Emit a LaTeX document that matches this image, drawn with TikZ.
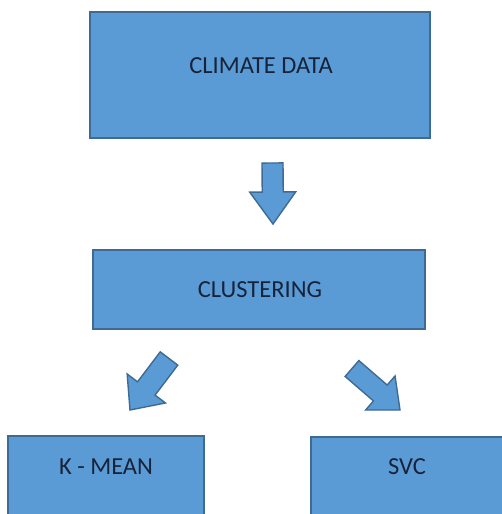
\documentclass[tikz,border=0pt]{standalone}
\usepackage{fontspec}
\setmainfont{Carlito}
\usetikzlibrary{calc}
\definecolor{boxfill}{HTML}{5B9BD5}
\definecolor{boxedge}{HTML}{3E6A93}
\definecolor{txt}{HTML}{17233A}
\tikzset{
  boxshape/.style={draw=boxedge, fill=boxfill, line width=1.5pt},
  lbl/.style={text=txt, font=\fontsize{24.5}{28}\selectfont, inner sep=0pt},
  blockarrow/.style={draw=boxedge, fill=boxfill, line width=1.4pt, line join=miter}
}
\newcommand{\blockarr}[6]{% tail, tip, shaft half, head half, head length, name
  \coordinate (#6H) at ($(#2)!#5!(#1)$);
  \draw[blockarrow]
    ($(#1)!#3!90:(#2)$) -- ($(#6H)!#3!90:(#2)$) -- ($(#6H)!#4!90:(#2)$) --
    (#2) -- ($(#6H)!#4!-90:(#2)$) -- ($(#6H)!#3!-90:(#2)$) --
    ($(#1)!#3!-90:(#2)$) -- cycle;
}
\begin{document}
\begin{tikzpicture}[x=1pt,y=-1pt]
\useasboundingbox (0,0) rectangle (502,514);
\clip (0,0) rectangle (502,514);
\fill[white] (0,0) rectangle (502,514);
% boxes
\draw[boxshape] (90,12) rectangle (430,138);
\node[lbl] (climate) at (261,66) {CLIMATE DATA};
\draw[boxshape] (93,250) rectangle (425,329);
\node[lbl] (clust) at (260,290) {CLUSTERING};
\draw[boxshape] (8,436) rectangle (204,540);
\node[lbl] (kmean) at (106,467) {K - MEAN};
\draw[boxshape] (311,437) rectangle (503,540);
\node[lbl] (svc) at (407,467) {SVC};
% block arrows
\coordinate (a1t) at (272.5,163);
\coordinate (a1p) at (273,224);
\blockarr{a1t}{a1p}{10.5pt}{23pt}{32pt}{a1}
\coordinate (a2t) at (169,358.5);
\coordinate (a2p) at (130,410);
\blockarr{a2t}{a2p}{11pt}{24pt}{27pt}{a2}
\coordinate (a3t) at (352,368.5);
\coordinate (a3p) at (400,410);
\blockarr{a3t}{a3p}{10.5pt}{22.5pt}{26pt}{a3}
\end{tikzpicture}
\end{document}
